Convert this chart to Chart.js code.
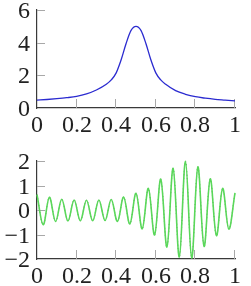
<!DOCTYPE html>
<html>
<head>
<meta charset="utf-8">
<script src="https://cdn.jsdelivr.net/npm/chart.js@4/dist/chart.umd.min.js"></script>
<style>
  html, body { margin: 0; padding: 0; background: #fff; }
  #top { position: absolute; left: 0; top: 0; width: 251px; height: 140px; }
  #bottom { position: absolute; left: 0; top: 140px; width: 251px; height: 146px; }
</style>
</head>
<body>
<div id="top"><canvas id="peak"></canvas></div>
<div id="bottom"><canvas id="wave"></canvas></div>
<script>
// values
const peakX = [0, 0.05, 0.1, 0.15, 0.2, 0.25, 0.3, 0.35, 0.375, 0.4, 0.425, 0.45, 0.475, 0.5,
  0.525, 0.55, 0.575, 0.6, 0.625, 0.65, 0.7, 0.75, 0.8, 0.85, 0.9, 0.95, 1];
const peakY = [0.48, 0.52, 0.57, 0.63, 0.71, 0.86, 1.1, 1.45, 1.72, 2.15, 2.95, 3.95, 4.75, 5.0,
  4.75, 3.95, 2.95, 2.15, 1.72, 1.45, 1.06, 0.84, 0.69, 0.6, 0.53, 0.48, 0.43];

// peaks and troughs of the oscillation
const waveX = [0, 0.03125, 0.0625, 0.09375, 0.125, 0.15625, 0.1875, 0.21875, 0.25, 0.28125,
  0.3125, 0.34375, 0.375, 0.40625, 0.4375, 0.46875, 0.5, 0.53125, 0.5625, 0.59375,
  0.625, 0.65625, 0.6875, 0.71875, 0.75, 0.78125, 0.8125, 0.84375, 0.875, 0.90625,
  0.9375, 0.96875, 1];
const waveY = [0.63, -0.6, 0.52, -0.47, 0.44, -0.45, 0.41, -0.44, 0.4, -0.44,
  0.41, -0.43, 0.43, -0.47, 0.53, -0.57, 0.68, -0.77, 0.88, -1.02,
  1.26, -1.51, 1.7, -1.92, 1.99, -1.96, 1.76, -1.49, 1.27, -1.05,
  0.88, -0.78, 0.7];

const xTicks = [0, 0.2, 0.4, 0.6, 0.8, 1];
const xLabels = ['0', '0.2', '0.4', '0.6', '0.8', '1'];
const peakTicks = [0, 2, 4, 6];
const peakLabels = ['0', '2', '4', '6'];
const waveTicks = [-2, -1, 0, 1, 2];
const waveLabels = ['\u22122', '\u22121', '0', '1', '2'];

const labelFont = '24px "Liberation Serif", serif';

// pgfplots style axes: inner tick marks and labels on whole pixels
const axisDecor = {
  id: 'axisDecor',
  beforeDatasetsDraw(chart, args, opts) {
    const { ctx, chartArea: a, scales: { x, y } } = chart;
    ctx.save();
    ctx.strokeStyle = '#a8a8a8';
    ctx.lineWidth = 1;
    ctx.beginPath();
    xTicks.slice(1).forEach(v => {
      const px = Math.round(x.getPixelForValue(v)) - 0.5;
      ctx.moveTo(px, a.bottom);
      ctx.lineTo(px, a.bottom - 9);
    });
    opts.yTicks.slice(1).forEach(v => {
      const py = Math.round(y.getPixelForValue(v)) + 0.5;
      ctx.moveTo(a.left, py);
      ctx.lineTo(a.left + 8, py);
    });
    ctx.stroke();

    ctx.fillStyle = '#222';
    ctx.font = labelFont;
    ctx.textBaseline = 'alphabetic';
    ctx.textAlign = 'center';
    xTicks.forEach((v, i) => {
      ctx.fillText(xLabels[i], Math.round(x.getPixelForValue(v)), Math.round(a.bottom + 23.5));
    });
    ctx.textAlign = 'right';
    opts.yTicks.forEach((v, i) => {
      ctx.fillText(opts.yLabels[i], Math.round(a.left - 7), Math.round(y.getPixelForValue(v) + 8));
    });
    ctx.restore();
  }
};

function makeOptions(yMin, yMax, yTicks, yLabels, padTop, xHeight) {
  return {
    responsive: true,
    maintainAspectRatio: false,
    animation: false,
    events: [],
    layout: { autoPadding: false, padding: { top: padTop, right: 16, left: 0, bottom: 0 } },
    plugins: {
      legend: { display: false },
      tooltip: { enabled: false },
      axisDecor: { yTicks: yTicks, yLabels: yLabels }
    },
    scales: {
      x: {
        type: 'linear',
        min: 0,
        max: 1,
        grid: { display: false, drawTicks: false },
        border: { display: true, color: '#3a3a3a', width: 1.2 },
        ticks: { display: false },
        afterFit: s => { s.height = xHeight; }
      },
      y: {
        min: yMin,
        max: yMax,
        grid: { display: false, drawTicks: false },
        border: { display: true, color: '#3a3a3a', width: 1.2 },
        ticks: { display: false },
        afterFit: s => { s.width = 37; }
      }
    }
  };
}

new Chart(document.getElementById('peak'), {
  type: 'line',
  data: {
    datasets: [{
      data: peakX.map((x, i) => ({ x: x, y: peakY[i] })),
      borderColor: '#2b2bd0',
      borderWidth: 1.3,
      pointRadius: 0,
      fill: false,
      cubicInterpolationMode: 'monotone',
      clip: false
    }]
  },
  options: makeOptions(0, 6, peakTicks, peakLabels, 10, 32),
  plugins: [axisDecor]
});

const wavePoints = waveX.map((x, i) => ({ x: x, y: waveY[i] }));

new Chart(document.getElementById('wave'), {
  type: 'line',
  data: {
    datasets: [{
      data: wavePoints,
      borderColor: '#5ad85a',
      borderWidth: 1.6,
      pointRadius: 0,
      fill: false,
      tension: 0.36,
      clip: false
    }, {
      data: wavePoints,
      borderColor: '#2a4a2a',
      borderWidth: 0.8,
      borderDash: [1, 2.5],
      pointRadius: 0,
      fill: false,
      tension: 0.36,
      clip: false
    }]
  },
  options: makeOptions(-2, 2, waveTicks, waveLabels, 21, 27),
  plugins: [axisDecor]
});
</script>
</body>
</html>
